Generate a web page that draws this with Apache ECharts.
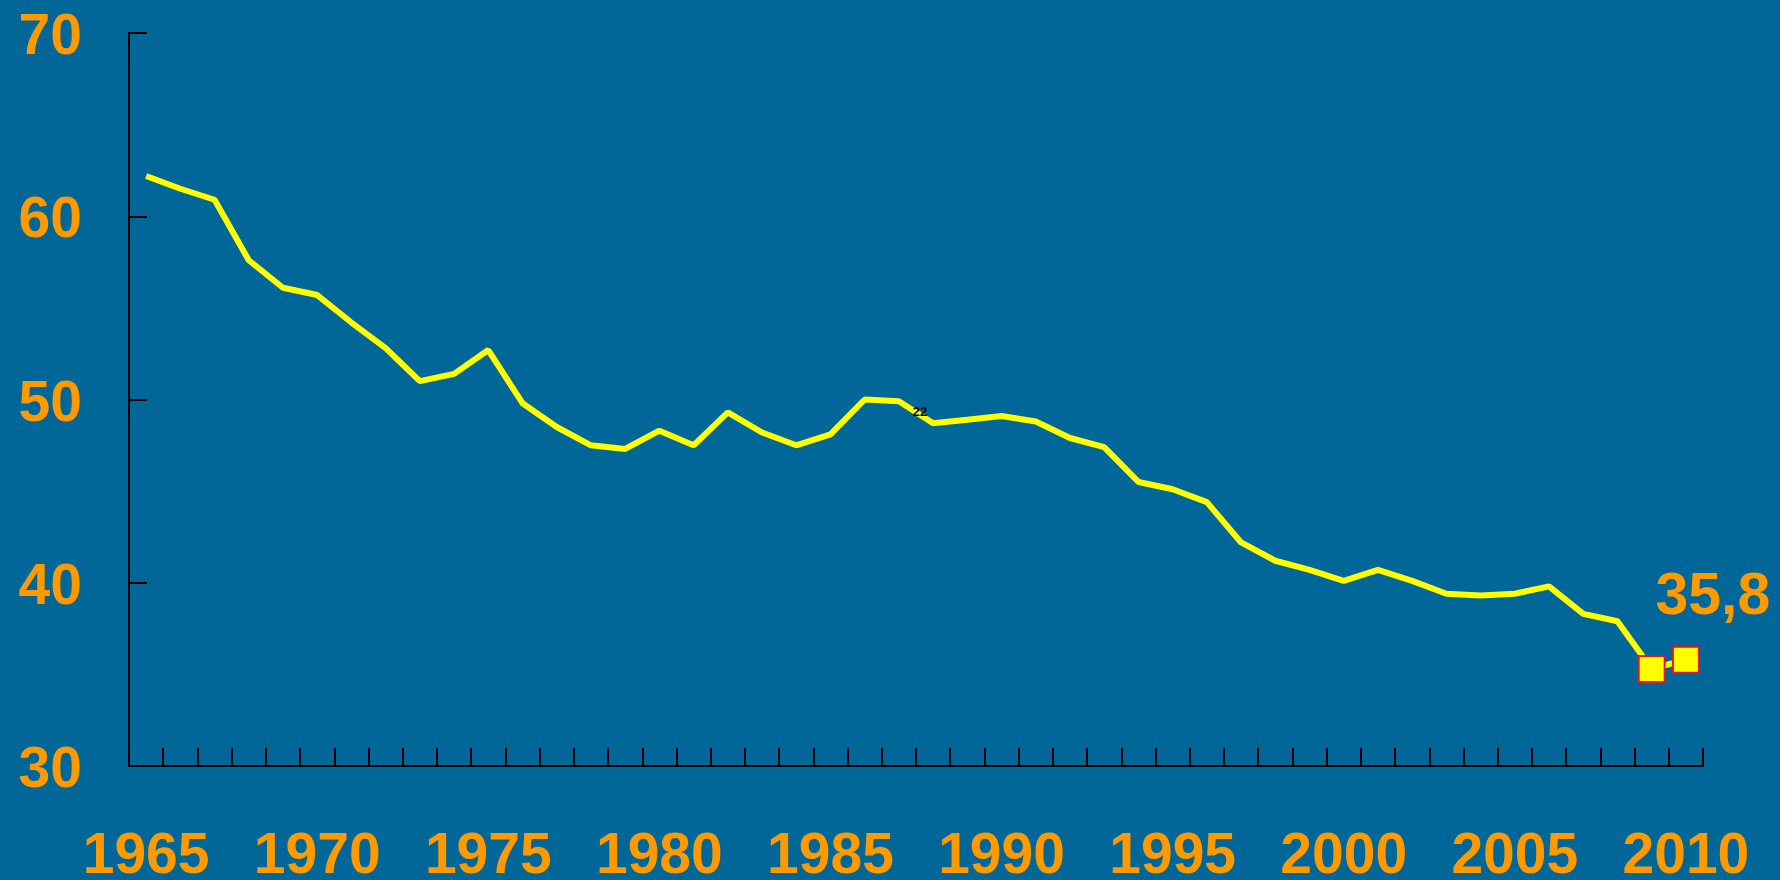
<!DOCTYPE html>
<html>
<head>
<meta charset="utf-8">
<script src="https://cdn.jsdelivr.net/npm/echarts@6/dist/echarts.min.js"></script>
<style>
  html, body { margin: 0; padding: 0; background: #016799; }
  #chart { width: 1780px; height: 880px; }
</style>
</head>
<body>
<div id="chart"></div>
<script>
// years on the category axis
const years = [];
for (let y = 1965; y <= 2010; y++) years.push(String(y));

// values, one per year
const rates = [
  62.2, 61.5, 60.9, 57.6, 56.1, 55.7, 54.2, 52.8, 51.0, 51.4,
  52.7, 49.8, 48.5, 47.5, 47.3, 48.3, 47.5, 49.3, 48.2, 47.5,
  48.1, 50.0, 49.9, 48.7, 48.9, 49.1, 48.8, 47.9, 47.4, 45.5,
  45.1, 44.4, 42.2, 41.2, 40.7, 40.1, 40.7, 40.1, 39.4, 39.3,
  39.4, 39.8, 38.3, 37.9, 35.3, 35.8
];

// highlighted points at the end
const markedIdx = [44, 45];
const lastLabel = '35,8';
const noteIdx = 22;
const noteText = '22';

const orange = '#FF9900';
const font = '"Liberation Sans", Arial, sans-serif';

const chart = echarts.init(document.getElementById('chart'));

const seriesData = rates.map((v, i) => {
  if (markedIdx.indexOf(i) < 0) return v;
  const item = {
    value: v,
    symbol: 'rect',
    symbolSize: 26,
    itemStyle: { color: '#FFFF00', borderColor: '#E8141B', borderWidth: 2 }
  };
  if (i === rates.length - 1) {
    item.label = {
      show: true,
      position: 'top',
      offset: [27, -13],
      formatter: lastLabel,
      color: orange,
      fontFamily: font,
      fontWeight: 'bold',
      fontSize: 59
    };
  }
  return item;
});

chart.setOption({
  backgroundColor: '#016799',
  animation: false,
  grid: { left: 129, right: 77, top: 33, bottom: 114, containLabel: false, outerBoundsMode: 'none' },
  xAxis: {
    type: 'category',
    data: years,
    boundaryGap: true,
    axisLine: { lineStyle: { color: '#000', width: 2 } },
    axisTick: { show: true, inside: true, length: 18, interval: 0, lineStyle: { color: '#000', width: 2 } },
    axisLabel: {
      interval: 4,
      margin: 63,
      color: orange,
      fontFamily: font,
      fontWeight: 'bold',
      fontSize: 57
    },
    splitLine: { show: false }
  },
  yAxis: {
    type: 'value',
    min: 30,
    max: 70,
    interval: 10,
    axisLine: { show: true, lineStyle: { color: '#000', width: 2 } },
    axisTick: { show: true, inside: true, length: 18, lineStyle: { color: '#000', width: 2 } },
    axisLabel: {
      margin: 47,
      formatter: '{a|{value}}',
      rich: {
        a: {
          lineHeight: 68,
          verticalAlign: 'bottom',
          color: orange,
          fontFamily: font,
          fontWeight: 'bold',
          fontSize: 57
        }
      }
    },
    splitLine: { show: false }
  },
  series: [{
    type: 'line',
    data: seriesData,
    symbol: 'none',
    showSymbol: true,
    showAllSymbol: true,
    lineStyle: { color: '#FFFF00', width: 6 },
    itemStyle: { color: '#FFFF00' },
    markPoint: {
      symbol: 'circle',
      symbolSize: 1,
      itemStyle: { color: 'rgba(0,0,0,0)' },
      label: {
        show: true,
        position: 'inside',
        offset: [21, 11],
        color: '#000',
        fontFamily: font,
        fontWeight: 'bold',
        fontSize: 13,
        formatter: noteText
      },
      data: [{ coord: [years[noteIdx], rates[noteIdx]] }]
    }
  }]
});
</script>
</body>
</html>
